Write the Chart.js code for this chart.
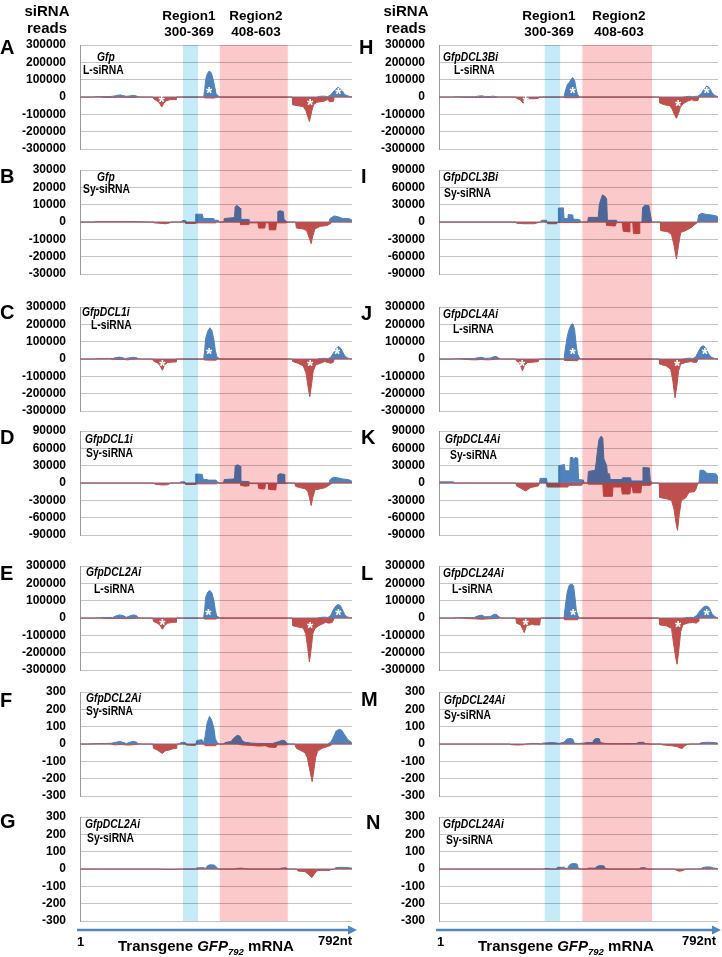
<!DOCTYPE html>
<html>
<head>
<meta charset="utf-8">
<script src="https://cdn.jsdelivr.net/npm/chart.js@4.4.0/dist/chart.umd.min.js"></script>
<style>
  body { margin: 0; background: #fff; }
  #fig { position: relative; width: 722px; height: 957px; overflow: hidden; background: #fff;
         font-family: "Liberation Sans", Arial, sans-serif; color: #000; }
  #fig canvas { position: absolute; }
  .t { position: absolute; white-space: nowrap; font-weight: bold; line-height: 1; transform: translateY(-50%); z-index: 2; }
  .c { transform: translate(-50%, -50%); }
  .n { transform: translateY(-50%) scaleX(0.86); transform-origin: left center; }
</style>
</head>
<body>
<div id="fig"></div>
<script>
// ---------- data ----------
// x = nucleotide position on GFP792, y = siRNA reads (sense > 0 blue, antisense < 0 red)
const panelLetters = ['A', 'B', 'C', 'D', 'E', 'F', 'G', 'H', 'I', 'J', 'K', 'L', 'M', 'N'];
const lineNames = ['Gfp', 'Gfp', 'GfpDCL1i', 'GfpDCL1i', 'GfpDCL2Ai', 'GfpDCL2Ai', 'GfpDCL2Ai',
                   'GfpDCL3Bi', 'GfpDCL3Bi', 'GfpDCL4Ai', 'GfpDCL4Ai', 'GfpDCL24Ai', 'GfpDCL24Ai', 'GfpDCL24Ai'];
const sizeClasses = ['L-siRNA', 'Sy-siRNA', 'L-siRNA', 'Sy-siRNA', 'L-siRNA', 'Sy-siRNA', 'Sy-siRNA',
                     'L-siRNA', 'Sy-siRNA', 'L-siRNA', 'Sy-siRNA', 'L-siRNA', 'Sy-siRNA', 'Sy-siRNA'];
const yLimits = [300000, 30000, 300000, 90000, 300000, 300, 300,
                 300000, 90000, 300000, 90000, 300000, 300, 300];
const regionStart = [300, 407];
const regionEnd = [344, 605];
const regionNames = ['Region1', 'Region2'];
const regionRanges = ['300-369', '408-603'];

const senseA = [[1,0],[40,0],[45,2000],[90,3000],[100,6000],[110,10000],[118,12000],[125,8000],[135,4000],[145,6000],[152,9000],[160,8000],[168,3000],[175,0],[360,0],[363,40000],[366,100000],[370,130000],[376,150000],[382,140000],[388,100000],[392,60000],[396,20000],[403,5000],[408,0],[690,0],[698,4000],[712,5000],[720,2000],[728,8000],[735,25000],[742,40000],[750,55000],[756,50000],[764,35000],[770,15000],[778,8000],[786,3000],[792,0]];
const antiA = [[1,0],[60,0],[70,-2000],[95,-3000],[110,-1000],[130,-2000],[150,-3000],[175,0],[212,0],[214,-10000],[222,-20000],[230,-30000],[238,-58000],[244,-35000],[252,-22000],[262,-15000],[280,-15000],[281,0],[360,0],[362,-5000],[390,-6000],[398,-2000],[403,0],[618,0],[620,-45000],[632,-50000],[650,-55000],[658,-80000],[668,-142000],[675,-80000],[680,-45000],[690,-30000],[710,-25000],[720,-15000],[728,-28000],[738,-25000],[740,0],[792,0]];

const senseB = [[1,0],[40,0],[50,300],[150,300],[200,0],[296,0],[298,800],[306,800],[308,0],[336,0],[337,4500],[356,4500],[359,2000],[388,2000],[390,1000],[403,1000],[405,0],[419,0],[420,2000],[446,2500],[450,3000],[452,9000],[458,9500],[466,8000],[468,1500],[490,1500],[492,0],[575,0],[576,6000],[582,6500],[592,6000],[594,1500],[600,500],[605,0],[725,0],[728,2000],[740,3500],[752,3000],[765,2000],[780,2000],[790,1500],[792,0]];
const antiB = [[1,0],[215,0],[216,-500],[250,-1000],[262,-500],[265,0],[306,0],[308,-800],[337,-800],[340,-500],[395,-500],[398,0],[466,0],[468,-1500],[490,-1500],[492,-500],[518,-500],[520,-3500],[538,-3500],[540,-500],[550,-500],[551,-4500],[570,-4500],[572,-500],[600,-500],[605,0],[628,0],[630,-3500],[650,-4000],[660,-5000],[667,-9000],[673,-12500],[678,-8000],[684,-4000],[700,-2500],[720,-2000],[728,-1000],[730,0],[792,0]];

const senseC = [[1,0],[40,0],[50,2000],[95,3000],[105,8000],[115,11000],[122,8000],[132,3000],[145,7000],[155,10000],[163,8000],[170,2000],[178,0],[360,0],[363,50000],[366,120000],[372,160000],[378,180000],[384,165000],[390,110000],[394,50000],[398,15000],[405,3000],[410,0],[690,0],[700,3000],[712,4000],[722,2000],[730,10000],[738,35000],[746,60000],[752,72000],[758,65000],[765,40000],[772,15000],[780,5000],[788,2000],[792,0]];
const antiC = [[1,0],[90,0],[95,-4000],[100,-2000],[130,-3000],[138,-5000],[150,-2000],[175,0],[212,0],[214,-12000],[225,-22000],[232,-35000],[240,-65000],[246,-35000],[255,-20000],[270,-18000],[280,-17000],[281,0],[360,0],[362,-6000],[395,-7000],[400,-2000],[405,0],[618,0],[620,-15000],[635,-25000],[650,-40000],[658,-80000],[664,-160000],[669,-217000],[674,-150000],[679,-70000],[686,-35000],[700,-25000],[712,-15000],[722,-20000],[730,-25000],[738,-18000],[740,0],[792,0]];

const senseD = [[1,0],[290,0],[293,2000],[305,2000],[308,0],[336,0],[337,15500],[356,15000],[359,6000],[372,6000],[374,5000],[396,5000],[400,2000],[405,0],[418,0],[420,6000],[448,7000],[450,10000],[452,30000],[460,31500],[466,29000],[468,3000],[490,2500],[492,0],[575,0],[576,14000],[582,16000],[594,15000],[596,2000],[602,0],[725,0],[728,6000],[738,10000],[750,9000],[765,7000],[780,6000],[790,4000],[792,0]];
const antiD = [[1,0],[215,0],[218,-2000],[240,-3500],[255,-3000],[262,-1000],[265,0],[306,0],[308,-2500],[337,-2500],[340,-1500],[398,-1500],[400,0],[466,0],[468,-4000],[480,-5500],[490,-5000],[492,-1000],[518,-1000],[520,-9000],[530,-10500],[538,-10000],[540,-1000],[548,-1000],[550,-11000],[570,-12000],[572,-1000],[600,-1000],[605,0],[625,0],[628,-6000],[640,-8000],[655,-10000],[663,-14000],[668,-25000],[673,-39000],[678,-25000],[684,-12000],[700,-10000],[715,-8000],[725,-4000],[730,-2000],[735,0],[792,0]];

const senseE = [[1,0],[40,0],[50,2000],[95,3000],[105,12000],[115,18000],[125,14000],[135,4000],[145,12000],[155,18000],[163,15000],[170,3000],[178,0],[360,0],[363,50000],[366,120000],[372,150000],[378,159000],[384,145000],[390,100000],[394,45000],[398,12000],[405,3000],[410,0],[690,0],[700,3000],[712,5000],[722,3000],[730,15000],[738,50000],[746,72000],[752,78000],[758,72000],[765,45000],[772,15000],[780,5000],[788,2000],[792,0]];
const antiE = [[1,0],[60,0],[70,-2000],[95,-3000],[110,-2000],[130,-4000],[150,-3000],[175,0],[212,0],[214,-20000],[225,-30000],[232,-40000],[240,-65000],[246,-45000],[255,-30000],[270,-25000],[280,-25000],[281,0],[360,0],[362,-6000],[395,-6000],[400,-2000],[405,0],[618,0],[620,-45000],[635,-52000],[650,-58000],[657,-90000],[663,-170000],[668,-254000],[673,-180000],[678,-90000],[684,-60000],[695,-45000],[705,-35000],[715,-25000],[725,-30000],[735,-25000],[740,0],[792,0]];

const senseF = [[1,0],[20,0],[40,2],[90,4],[105,10],[115,15],[125,10],[135,3],[145,10],[155,15],[163,12],[170,2],[180,0],[290,0],[293,8],[300,10],[306,8],[312,0],[337,0],[340,20],[355,25],[359,3],[364,40],[370,120],[377,160],[383,140],[390,90],[394,30],[400,8],[405,0],[418,0],[422,8],[440,15],[448,35],[458,50],[466,45],[472,20],[480,10],[500,5],[520,3],[560,3],[580,15],[590,22],[597,18],[602,5],[610,0],[720,0],[730,10],[738,40],[746,75],[755,85],[762,80],[770,55],[780,25],[790,10],[792,0]];
const antiF = [[1,0],[90,0],[100,-5],[120,-3],[140,-6],[160,-3],[175,0],[212,0],[214,-25],[225,-35],[232,-45],[240,-55],[248,-40],[260,-35],[270,-28],[280,-25],[282,0],[306,0],[310,-6],[335,-8],[340,0],[362,0],[364,-10],[395,-10],[400,0],[460,0],[470,-5],[500,-8],[520,-12],[540,-10],[550,-18],[570,-20],[575,-5],[600,-5],[610,0],[625,0],[630,-25],[645,-40],[655,-50],[662,-80],[668,-140],[676,-217],[681,-150],[686,-80],[692,-40],[705,-25],[720,-15],[730,-8],[735,0],[792,0]];

const senseG = [[1,0],[336,0],[340,6],[360,8],[365,3],[372,20],[380,25],[392,22],[400,5],[405,0],[450,0],[455,3],[470,5],[480,2],[490,0],[582,0],[585,5],[600,7],[605,0],[740,0],[745,8],[760,10],[780,8],[792,5]];
const antiG = [[1,0],[230,0],[240,-2],[280,-2],[290,0],[630,0],[635,-12],[655,-15],[665,-30],[675,-50],[682,-30],[690,-10],[700,-8],[725,-8],[732,-3],[740,0],[792,0]];

const senseH = [[1,0],[40,0],[50,1500],[100,2000],[112,5000],[121,7000],[130,3000],[145,3000],[154,5000],[162,2000],[170,0],[355,0],[358,30000],[364,70000],[370,85000],[376,105000],[380,111000],[385,95000],[389,50000],[393,15000],[398,3000],[402,0],[690,0],[700,2000],[712,4000],[720,2000],[735,5000],[745,20000],[752,45000],[760,63000],[767,55000],[775,25000],[782,10000],[790,3000],[792,0]];
const antiH = [[1,0],[60,0],[70,-2000],[100,-3000],[130,-2000],[150,-3000],[170,0],[218,0],[220,-8000],[230,-15000],[239,-36000],[245,-15000],[255,-10000],[270,-10000],[282,-8000],[284,0],[355,0],[357,-4000],[395,-4000],[400,0],[625,0],[627,-35000],[640,-45000],[655,-50000],[662,-70000],[668,-100000],[674,-123000],[680,-95000],[685,-60000],[692,-40000],[705,-25000],[718,-15000],[725,-22000],[735,-20000],[738,0],[792,0]];

const senseI = [[1,0],[288,0],[291,3000],[305,3000],[307,0],[338,0],[339,24000],[353,24500],[355,6000],[366,6000],[367,13000],[380,12000],[381,5000],[398,4000],[400,0],[422,0],[424,8000],[452,8000],[455,30000],[460,40000],[464,47000],[470,45000],[476,40000],[478,3000],[504,3000],[506,0],[576,0],[578,25000],[585,29000],[596,28000],[601,10000],[604,0],[734,0],[737,12000],[745,15000],[760,13000],[775,12000],[790,10000],[792,0]];
const antiI = [[1,0],[218,0],[220,-2000],[240,-3000],[270,-3000],[282,-1000],[285,0],[306,0],[308,-3000],[334,-3000],[336,-1000],[398,-1000],[400,0],[474,0],[476,-6000],[500,-7000],[504,-1000],[520,-1000],[523,-16000],[540,-17000],[542,-1000],[550,-1000],[552,-20000],[568,-20000],[570,-1000],[600,-1000],[604,0],[628,0],[630,-15000],[650,-17000],[660,-22000],[667,-40000],[674,-64000],[680,-40000],[686,-18000],[700,-15000],[715,-10000],[725,-5000],[735,0],[792,0]];

const senseJ = [[1,0],[40,0],[50,2000],[100,3000],[112,8000],[121,10000],[130,4000],[145,5000],[155,13000],[162,15000],[170,5000],[176,0],[355,0],[358,50000],[364,130000],[370,175000],[376,200000],[380,203000],[385,170000],[389,90000],[393,30000],[398,8000],[403,0],[690,0],[700,3000],[712,5000],[720,3000],[728,10000],[737,45000],[744,70000],[750,77000],[757,65000],[765,30000],[773,10000],[782,3000],[792,0]];
const antiJ = [[1,0],[60,0],[70,-2000],[100,-5000],[120,-3000],[140,-5000],[160,-2000],[175,0],[218,0],[220,-12000],[228,-20000],[237,-68000],[243,-35000],[252,-20000],[270,-18000],[282,-15000],[284,0],[355,0],[357,-8000],[393,-10000],[398,0],[625,0],[627,-30000],[645,-40000],[658,-60000],[664,-130000],[670,-223000],[675,-160000],[680,-70000],[686,-30000],[700,-20000],[715,-15000],[725,-20000],[732,-18000],[735,0],[792,0]];

const senseK = [[1,0],[3,2000],[41,2000],[43,0],[285,0],[287,8000],[305,8000],[307,0],[338,0],[340,30000],[356,32000],[358,21000],[371,21000],[373,44000],[380,44000],[383,38000],[386,44000],[394,43000],[396,6000],[410,5000],[412,0],[422,0],[424,20000],[443,22000],[446,35000],[450,57000],[454,75000],[460,81000],[465,78000],[468,42000],[476,30000],[478,16000],[484,16000],[486,6000],[519,6000],[521,9000],[544,9000],[546,3500],[577,3500],[579,27000],[597,26000],[600,4000],[606,0],[738,0],[741,22000],[752,22000],[760,17000],[785,16000],[790,13000],[792,0]];
const antiK = [[1,0],[218,0],[220,-5000],[235,-10000],[246,-14000],[260,-8000],[282,-5000],[286,0],[305,0],[307,-7000],[366,-7000],[368,-4000],[405,-4000],[410,0],[420,0],[424,-2000],[465,-2000],[467,-23000],[492,-23000],[494,-7000],[518,-7000],[520,-19000],[542,-19000],[544,-7000],[549,-7000],[551,-17000],[573,-17000],[575,-4000],[600,-4000],[605,0],[625,0],[627,-25000],[650,-28000],[660,-30000],[667,-45000],[673,-70000],[677,-82000],[682,-55000],[688,-30000],[700,-26000],[710,-16000],[725,-15000],[730,-10000],[735,0],[792,0]];

const senseL = [[1,0],[40,0],[50,2000],[100,3000],[112,13000],[121,17000],[130,7000],[145,8000],[155,20000],[162,22000],[170,8000],[176,0],[355,0],[358,60000],[364,150000],[370,190000],[377,196000],[382,185000],[386,120000],[390,40000],[395,10000],[400,0],[690,0],[700,2000],[712,4000],[722,3000],[732,15000],[742,45000],[752,65000],[760,69000],[767,60000],[775,25000],[783,8000],[792,0]];
const antiL = [[1,0],[60,0],[70,-2000],[100,-5000],[120,-7000],[140,-5000],[160,-3000],[175,0],[218,0],[220,-30000],[232,-40000],[242,-84000],[248,-45000],[258,-40000],[265,-35000],[270,-40000],[286,-40000],[288,0],[355,0],[357,-10000],[393,-10000],[398,0],[625,0],[627,-40000],[645,-45000],[660,-60000],[666,-150000],[672,-230000],[676,-267000],[681,-180000],[686,-80000],[692,-40000],[705,-30000],[720,-25000],[730,-30000],[736,-20000],[738,0],[792,0]];

const senseM = [[1,0],[250,0],[260,3],[280,3],[290,0],[294,5],[320,8],[334,6],[340,3],[355,10],[362,28],[372,32],[380,28],[384,5],[395,3],[410,5],[420,8],[436,8],[440,25],[446,32],[455,30],[458,8],[470,4],[480,2],[520,2],[560,3],[568,10],[580,10],[586,3],[600,0],[738,0],[745,8],[760,10],[775,9],[790,6],[792,0]];
const antiM = [[1,0],[200,0],[205,-4],[225,-6],[240,-4],[245,0],[630,0],[635,-5],[660,-10],[675,-15],[689,-27],[698,-10],[705,-3],[712,0],[792,0]];

const senseN = [[1,0],[298,0],[300,3],[310,3],[312,0],[333,0],[336,10],[356,10],[360,3],[366,5],[370,22],[376,30],[384,32],[392,28],[396,3],[405,0],[420,0],[424,5],[444,5],[448,15],[458,20],[468,18],[472,4],[480,0],[567,0],[572,6],[580,8],[588,5],[592,0],[742,0],[748,8],[760,12],[772,11],[780,5],[790,3],[792,0]];
const antiN = [[1,0],[668,0],[672,-5],[682,-13],[690,-10],[697,-4],[700,0],[792,0]];

// white asterisks on the L-siRNA panels: [nt, reads]
const starsA = [[238,-17000],[376,36000],[670,-35000],[752,29000]];
const starsC = [[240,-25000],[376,42000],[670,-25000],[749,42000]];
const starsE = [[240,-25000],[374,33000],[670,-44000],[752,33000]];
const starsH = [[246,-17000],[379,36000],[679,-36000],[760,36000]];
const starsJ = [[236,-25000],[379,42000],[676,-25000],[755,42000]];
const starsL = [[246,-25000],[381,33000],[679,-40000],[760,33000]];

const senseData = [senseA, senseB, senseC, senseD, senseE, senseF, senseG, senseH, senseI, senseJ, senseK, senseL, senseM, senseN];
const antiData = [antiA, antiB, antiC, antiD, antiE, antiF, antiG, antiH, antiI, antiJ, antiK, antiL, antiM, antiN];
const starData = { A: starsA, C: starsC, E: starsE, H: starsH, J: starsJ, L: starsL };

// ---------- layout ----------
const FONT = '"Liberation Sans", Arial, sans-serif';
const BLUE = '#4F81BD';
const RED = '#C0504D';
const bandColors = ['rgb(197,234,248)', 'rgb(252,201,203)'];
const plotTops = [45, 170, 307, 431, 566, 692, 817];
const plotH = 104;
const cols = [
    { left: 0, width: 360, axisW: 80, padR: 8 },
    { left: 360, width: 362, axisW: 79, padR: 4 }
];
// [x, centre y] of the two text lines inside every panel
const nameLabelPos = [[97,57],[97,177],[82,312],[85,439],[86,572],[86,698],[85,824],
                      [443,57],[443,177],[443,314],[445,439],[443,573],[444,700],[443,824]];
const classLabelPos = [[83,70],[83,189],[91,325],[86,453],[94,589],[86,711],[87,838],
                       [454,70],[444,193],[453,329],[450,455],[452,589],[444,715],[446,840]];
const letterPos = [[0,47],[0,176],[0,312],[0,437],[0,573],[0,700],[0,821],
                   [359,47],[361,176],[361,313],[361,437],[361,573],[361,699],[366,822]];

const fig = document.getElementById('fig');

function addText(html, x, y, size, cls) {
    const d = document.createElement('div');
    d.className = 't' + (cls ? ' ' + cls : '');
    d.style.left = x + 'px';
    d.style.top = y + 'px';
    d.style.fontSize = size + 'px';
    d.innerHTML = html;
    fig.appendChild(d);
}

const bandPlugin = {
    id: 'bands',
    afterDatasetsDraw(chart, args, opts) {
        const { ctx, chartArea, scales: { x } } = chart;
        const top = opts.first ? chartArea.top : 0;
        const bottom = opts.last ? chartArea.bottom : chart.height;
        ctx.save();
        ctx.globalCompositeOperation = 'multiply';
        regionStart.forEach((s, k) => {
            const x0 = x.getPixelForValue(s);
            const x1 = x.getPixelForValue(regionEnd[k]);
            ctx.fillStyle = bandColors[k];
            ctx.fillRect(x0, top, x1 - x0, bottom - top);
        });
        ctx.restore();
    }
};

const starPlugin = {
    id: 'stars',
    afterDatasetsDraw(chart, args, opts) {
        if (!opts.points) return;
        const { ctx, scales: { x, y } } = chart;
        ctx.save();
        ctx.fillStyle = '#fff';
        ctx.font = 'bold 16px ' + FONT;
        ctx.textAlign = 'center';
        ctx.textBaseline = 'middle';
        opts.points.forEach(p => {
            ctx.fillText('*', x.getPixelForValue(p[0]), y.getPixelForValue(p[1]) + 4);
        });
        ctx.restore();
    }
};

const arrowPlugin = {
    id: 'arrow',
    afterDraw(chart, args, opts) {
        if (!opts.show) return;
        const { ctx, chartArea } = chart;
        const yy = chartArea.bottom + 9;
        const x0 = chartArea.left - 3;
        const x1 = Math.min(chartArea.right + 5, chart.width - 1);
        ctx.save();
        ctx.strokeStyle = '#4F86C6';
        ctx.fillStyle = '#4F86C6';
        ctx.lineWidth = 2.5;
        ctx.beginPath();
        ctx.moveTo(x0, yy);
        ctx.lineTo(x1 - 7, yy);
        ctx.stroke();
        ctx.beginPath();
        ctx.moveTo(x1 - 9, yy - 4.5);
        ctx.lineTo(x1, yy);
        ctx.lineTo(x1 - 9, yy + 4.5);
        ctx.closePath();
        ctx.fill();
        ctx.restore();
    }
};

function toXY(arr) {
    return arr.map(p => ({ x: p[0], y: p[1] }));
}

panelLetters.forEach((id, i) => {
    const c = i < 7 ? 0 : 1;
    const r = i % 7;
    const col = cols[c];
    const top = plotTops[r] - 8;
    const h = r < 6 ? plotTops[r + 1] - plotTops[r] : 957 - top;

    const canvas = document.createElement('canvas');
    canvas.width = col.width;
    canvas.height = h;
    canvas.style.left = col.left + 'px';
    canvas.style.top = top + 'px';
    fig.appendChild(canvas);

    const lim = yLimits[i];
    new Chart(canvas, {
        type: 'line',
        data: {
            datasets: [
                {
                    data: toXY(antiData[i]),
                    borderColor: RED,
                    backgroundColor: RED,
                    borderWidth: 1,
                    fill: 'origin',
                    pointRadius: 0,
                    tension: 0
                },
                {
                    data: toXY(senseData[i]),
                    borderColor: BLUE,
                    backgroundColor: BLUE,
                    borderWidth: 1,
                    fill: 'origin',
                    pointRadius: 0,
                    tension: 0
                }
            ]
        },
        options: {
            responsive: false,
            animation: false,
            devicePixelRatio: 1,
            events: [],
            layout: {
                autoPadding: false,
                padding: { top: 8, bottom: h - 8 - plotH, left: 0, right: col.padR }
            },
            plugins: {
                legend: { display: false },
                tooltip: { enabled: false },
                bands: { first: r === 0, last: r === 6 },
                stars: { points: starData[id] },
                arrow: { show: r === 6 }
            },
            scales: {
                x: { type: 'linear', min: 0, max: 792, display: false },
                y: {
                    min: -lim,
                    max: lim,
                    afterFit: scale => { scale.width = col.axisW; },
                    ticks: {
                        stepSize: lim / 3,
                        autoSkip: false,
                        padding: 0,
                        color: '#000',
                        font: { family: FONT, size: 12, weight: 'bold' },
                        callback: v => String(v)
                    },
                    grid: { color: '#c4c4c4', drawTicks: true, tickLength: 14, tickColor: 'rgba(0,0,0,0)', lineWidth: 1 },
                    border: { display: true, color: '#9a9a9a', width: 1 }
                }
            }
        },
        plugins: [bandPlugin, starPlugin, arrowPlugin]
    });

    // text inside panel
    addText('<i>' + lineNames[i] + '</i>', nameLabelPos[i][0], nameLabelPos[i][1], 12, 'n');
    addText(sizeClasses[i], classLabelPos[i][0], classLabelPos[i][1], 12, 'n');
    addText(id, letterPos[i][0], letterPos[i][1], 20);
});

// header
[47, 406].forEach(x => {
    addText('siRNA', x, 10, 15, 'c');
    addText('reads', x, 27, 15, 'c');
});
const regionCentres = [[189, 256], [549, 619]];
regionCentres.forEach(cs => {
    cs.forEach((x, k) => {
        addText(regionNames[k], x, 16, 13.5, 'c');
        addText(regionRanges[k], x, 32, 13.5, 'c');
    });
});

// bottom axis captions
[[77, 118, 318], [437, 478, 682]].forEach(p => {
    addText('1', p[0], 941, 13);
    addText('Transgene <i>GFP<sub style="font-size:9.5px">792</sub></i> mRNA', p[1], 947, 15);
    addText('792nt', p[2], 940, 13);
});
</script>
</body>
</html>
